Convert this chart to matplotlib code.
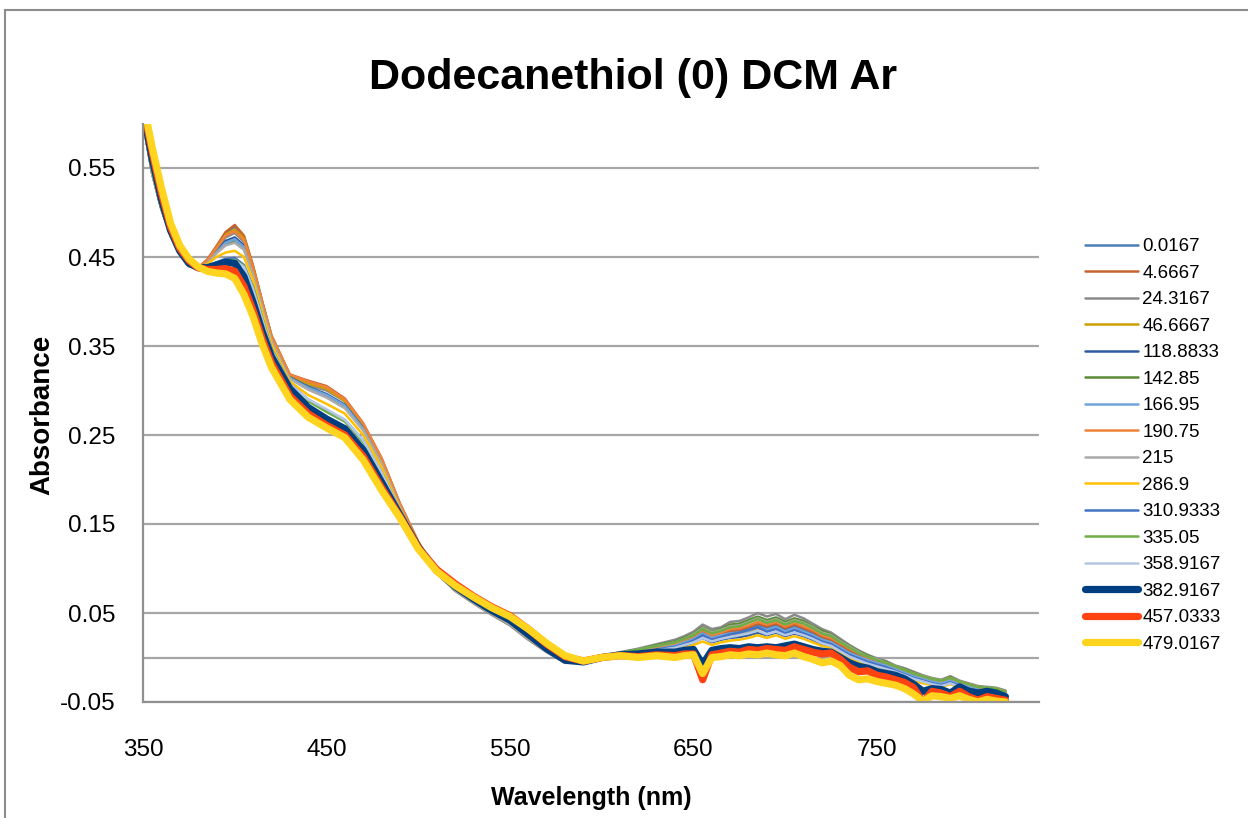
import matplotlib
matplotlib.use("Agg")
import matplotlib.pyplot as plt
from matplotlib.lines import Line2D

plt.rcParams['font.family'] = ['Liberation Sans', 'DejaVu Sans']

# wavelength grid (nm)
wavelength = [350, 355, 360, 365, 370, 375, 380,
              385, 390, 395, 400, 405, 410, 415, 420,
              430, 440, 450, 460, 470, 480, 490, 500,
              510, 520, 530, 540, 550, 560, 570, 580, 590, 600, 610, 620, 630, 640,
              645, 650, 655, 660, 665, 670, 675, 680, 685, 690,
              695, 700, 705, 710, 715, 720, 725, 730, 735, 740,
              745, 750, 755, 760, 765, 770, 775, 780, 785, 790,
              795, 800, 805, 810, 815, 820]

# absorbance for each time point (min)
t_0_0167 = [0.602, 0.544, 0.504, 0.475, 0.454, 0.440, 0.437,
            0.446, 0.461, 0.477, 0.484, 0.473, 0.439, 0.399, 0.361,
            0.317, 0.309, 0.303, 0.289, 0.262, 0.223, 0.172, 0.129,
            0.096, 0.076, 0.062, 0.049, 0.037, 0.021, 0.007, -0.005, -0.006, 0.000, 0.004, 0.007, 0.011, 0.015,
            0.018, 0.022, 0.029, 0.023, 0.026, 0.029, 0.030, 0.032, 0.036, 0.033,
            0.036, 0.031, 0.035, 0.031, 0.027, 0.022, 0.019, 0.013, 0.007, 0.002,
            -0.002, -0.005, -0.008, -0.012, -0.016, -0.020, -0.023, -0.026, -0.028, -0.025,
            -0.029, -0.032, -0.035, -0.036, -0.037, -0.040]
t_4_6667 = [0.603, 0.545, 0.505, 0.476, 0.455, 0.441, 0.438,
            0.447, 0.462, 0.478, 0.486, 0.474, 0.440, 0.400, 0.362,
            0.318, 0.311, 0.305, 0.291, 0.263, 0.224, 0.173, 0.130,
            0.096, 0.076, 0.062, 0.049, 0.037, 0.021, 0.007, -0.005, -0.006, 0.000, 0.004, 0.008, 0.012, 0.016,
            0.019, 0.023, 0.030, 0.024, 0.027, 0.030, 0.031, 0.034, 0.038, 0.035,
            0.038, 0.033, 0.037, 0.033, 0.029, 0.023, 0.020, 0.014, 0.008, 0.003,
            -0.001, -0.004, -0.007, -0.011, -0.015, -0.019, -0.022, -0.025, -0.027, -0.024,
            -0.028, -0.031, -0.034, -0.035, -0.036, -0.039]
t_24_3167 = [0.603, 0.546, 0.505, 0.476, 0.455, 0.441, 0.437,
             0.445, 0.458, 0.472, 0.477, 0.467, 0.436, 0.398, 0.360,
             0.316, 0.306, 0.300, 0.288, 0.262, 0.223, 0.172, 0.129,
             0.095, 0.075, 0.061, 0.048, 0.036, 0.020, 0.006, -0.006, -0.006, 0.001, 0.006, 0.010, 0.015, 0.020,
             0.024, 0.029, 0.037, 0.032, 0.034, 0.040, 0.041, 0.045, 0.050, 0.046,
             0.049, 0.043, 0.048, 0.044, 0.038, 0.032, 0.028, 0.021, 0.014, 0.008,
             0.003, -0.001, -0.004, -0.009, -0.012, -0.016, -0.020, -0.023, -0.025, -0.021,
             -0.026, -0.029, -0.032, -0.033, -0.034, -0.037]
t_46_6667 = [0.602, 0.544, 0.504, 0.475, 0.454, 0.440, 0.437,
             0.445, 0.460, 0.475, 0.481, 0.471, 0.438, 0.398, 0.361,
             0.317, 0.308, 0.302, 0.288, 0.261, 0.222, 0.172, 0.129,
             0.096, 0.077, 0.063, 0.050, 0.038, 0.022, 0.007, -0.005, -0.005, 0.000, 0.003, 0.006, 0.010, 0.013,
             0.016, 0.020, 0.026, 0.021, 0.024, 0.026, 0.027, 0.029, 0.033, 0.030,
             0.033, 0.028, 0.032, 0.028, 0.024, 0.019, 0.016, 0.010, 0.004, 0.000,
             -0.004, -0.007, -0.010, -0.014, -0.018, -0.022, -0.025, -0.028, -0.030, -0.027,
             -0.031, -0.034, -0.037, -0.038, -0.038, -0.041]
t_118_8833 = [0.602, 0.544, 0.504, 0.475, 0.454, 0.440, 0.437,
              0.444, 0.456, 0.468, 0.472, 0.463, 0.433, 0.395, 0.358,
              0.315, 0.304, 0.296, 0.284, 0.258, 0.220, 0.170, 0.128,
              0.096, 0.077, 0.063, 0.050, 0.038, 0.022, 0.008, -0.004, -0.005, 0.000, 0.003, 0.005, 0.008, 0.011,
              0.013, 0.017, 0.022, 0.017, 0.020, 0.022, 0.023, 0.025, 0.028, 0.025,
              0.028, 0.024, 0.027, 0.024, 0.020, 0.015, 0.013, 0.007, 0.001, -0.003,
              -0.007, -0.010, -0.013, -0.016, -0.020, -0.024, -0.027, -0.030, -0.032, -0.029,
              -0.033, -0.036, -0.038, -0.039, -0.040, -0.042]
t_142_85 = [0.603, 0.545, 0.505, 0.476, 0.455, 0.441, 0.437,
            0.443, 0.455, 0.465, 0.468, 0.460, 0.431, 0.394, 0.357,
            0.314, 0.303, 0.294, 0.282, 0.257, 0.219, 0.170, 0.128,
            0.095, 0.076, 0.062, 0.049, 0.037, 0.021, 0.007, -0.005, -0.006, 0.001, 0.005, 0.009, 0.014, 0.018,
            0.022, 0.027, 0.034, 0.029, 0.032, 0.037, 0.038, 0.042, 0.046, 0.042,
            0.045, 0.040, 0.044, 0.041, 0.035, 0.030, 0.026, 0.019, 0.013, 0.007,
            0.002, -0.002, -0.005, -0.010, -0.013, -0.017, -0.021, -0.024, -0.026, -0.022,
            -0.027, -0.030, -0.033, -0.034, -0.035, -0.038]
t_166_95 = [0.602, 0.544, 0.504, 0.475, 0.454, 0.440, 0.437,
            0.443, 0.455, 0.466, 0.470, 0.461, 0.432, 0.394, 0.357,
            0.314, 0.303, 0.295, 0.283, 0.257, 0.219, 0.170, 0.128,
            0.096, 0.077, 0.063, 0.050, 0.038, 0.022, 0.007, -0.005, -0.005, 0.000, 0.004, 0.006, 0.010, 0.014,
            0.017, 0.021, 0.027, 0.022, 0.025, 0.027, 0.028, 0.030, 0.034, 0.031,
            0.034, 0.029, 0.033, 0.029, 0.025, 0.020, 0.017, 0.011, 0.005, 0.001,
            -0.003, -0.006, -0.009, -0.013, -0.017, -0.021, -0.024, -0.027, -0.029, -0.026,
            -0.030, -0.033, -0.036, -0.037, -0.038, -0.041]
t_190_75 = [0.603, 0.545, 0.505, 0.476, 0.455, 0.441, 0.438,
            0.446, 0.460, 0.474, 0.479, 0.469, 0.437, 0.398, 0.361,
            0.318, 0.310, 0.304, 0.290, 0.263, 0.224, 0.173, 0.130,
            0.096, 0.076, 0.062, 0.049, 0.037, 0.021, 0.007, -0.005, -0.006, 0.000, 0.004, 0.008, 0.012, 0.016,
            0.020, 0.024, 0.031, 0.025, 0.028, 0.032, 0.033, 0.036, 0.040, 0.037,
            0.040, 0.035, 0.039, 0.035, 0.031, 0.025, 0.022, 0.016, 0.010, 0.005,
            0.000, -0.003, -0.006, -0.010, -0.014, -0.018, -0.021, -0.024, -0.026, -0.023,
            -0.027, -0.030, -0.033, -0.034, -0.035, -0.038]
t_215 = [0.602, 0.544, 0.504, 0.475, 0.454, 0.440, 0.437,
         0.443, 0.454, 0.463, 0.466, 0.458, 0.430, 0.393, 0.356,
         0.313, 0.301, 0.292, 0.280, 0.255, 0.218, 0.169, 0.127,
         0.095, 0.076, 0.062, 0.049, 0.037, 0.021, 0.007, -0.005, -0.006, 0.001, 0.005, 0.009, 0.013, 0.017,
         0.021, 0.026, 0.033, 0.028, 0.031, 0.035, 0.036, 0.040, 0.044, 0.040,
         0.043, 0.038, 0.042, 0.039, 0.034, 0.028, 0.025, 0.018, 0.012, 0.006,
         0.001, -0.002, -0.006, -0.010, -0.014, -0.018, -0.021, -0.024, -0.026, -0.023,
         -0.027, -0.030, -0.033, -0.034, -0.035, -0.038]
t_286_9 = [0.603, 0.545, 0.506, 0.477, 0.456, 0.442, 0.438,
           0.442, 0.450, 0.455, 0.457, 0.450, 0.424, 0.388, 0.352,
           0.310, 0.295, 0.285, 0.274, 0.250, 0.214, 0.167, 0.127,
           0.096, 0.078, 0.064, 0.051, 0.039, 0.023, 0.008, -0.004, -0.005, 0.000, 0.003, 0.004, 0.007, 0.009,
           0.011, 0.014, 0.018, 0.014, 0.017, 0.019, 0.020, 0.022, 0.025, 0.022,
           0.025, 0.021, 0.024, 0.021, 0.017, 0.013, 0.011, 0.005, -0.001, -0.005,
           -0.009, -0.012, -0.015, -0.018, -0.022, -0.026, -0.029, -0.031, -0.033, -0.030,
           -0.034, -0.037, -0.039, -0.040, -0.041, -0.043]
t_310_9333 = [0.604, 0.547, 0.507, 0.477, 0.456, 0.442, 0.438,
              0.440, 0.444, 0.448, 0.449, 0.441, 0.416, 0.381, 0.347,
              0.307, 0.290, 0.278, 0.267, 0.244, 0.208, 0.165, 0.126,
              0.097, 0.078, 0.064, 0.051, 0.039, 0.023, 0.008, -0.004, -0.005, 0.000, 0.003, 0.005, 0.009, 0.012,
              0.015, 0.019, 0.025, 0.020, 0.023, 0.026, 0.028, 0.031, 0.034, 0.029,
              0.032, 0.027, 0.031, 0.027, 0.023, 0.018, 0.015, 0.009, 0.003, -0.001,
              -0.005, -0.008, -0.011, -0.015, -0.019, -0.023, -0.026, -0.029, -0.031, -0.028,
              -0.032, -0.035, -0.037, -0.038, -0.039, -0.042]
t_335_05 = [0.604, 0.547, 0.507, 0.477, 0.456, 0.442, 0.438,
            0.440, 0.443, 0.446, 0.447, 0.440, 0.415, 0.380, 0.346,
            0.306, 0.288, 0.276, 0.265, 0.242, 0.207, 0.164, 0.126,
            0.097, 0.078, 0.064, 0.051, 0.039, 0.023, 0.008, -0.004, -0.005, 0.001, 0.005, 0.009, 0.013, 0.017,
            0.021, 0.025, 0.032, 0.027, 0.030, 0.034, 0.035, 0.039, 0.043, 0.039,
            0.042, 0.037, 0.041, 0.038, 0.033, 0.027, 0.024, 0.017, 0.011, 0.005,
            0.001, -0.003, -0.006, -0.010, -0.014, -0.018, -0.021, -0.024, -0.026, -0.023,
            -0.027, -0.030, -0.033, -0.034, -0.035, -0.038]
t_358_9167 = [0.604, 0.547, 0.507, 0.477, 0.456, 0.442, 0.438,
              0.440, 0.443, 0.445, 0.446, 0.439, 0.414, 0.380, 0.346,
              0.307, 0.290, 0.279, 0.267, 0.244, 0.208, 0.165, 0.126,
              0.097, 0.078, 0.064, 0.051, 0.039, 0.023, 0.008, -0.004, -0.005, 0.000, 0.003, 0.005, 0.008, 0.011,
              0.014, 0.017, 0.022, 0.018, 0.021, 0.023, 0.025, 0.027, 0.030, 0.026,
              0.029, 0.025, 0.028, 0.025, 0.021, 0.016, 0.013, 0.007, 0.001, -0.003,
              -0.007, -0.010, -0.013, -0.016, -0.020, -0.024, -0.027, -0.030, -0.032, -0.029,
              -0.033, -0.036, -0.038, -0.039, -0.040, -0.043]
t_382_9167 = [0.615, 0.560, 0.515, 0.480, 0.457, 0.443, 0.438,
              0.438, 0.441, 0.444, 0.443, 0.428, 0.399, 0.366, 0.338,
              0.302, 0.281, 0.268, 0.257, 0.233, 0.197, 0.160, 0.124,
              0.098, 0.080, 0.066, 0.053, 0.042, 0.026, 0.010, -0.003, -0.005, 0.000, 0.003, 0.004, 0.006, 0.006,
              0.008, 0.009, -0.008, 0.008, 0.010, 0.011, 0.010, 0.012, 0.011, 0.012,
              0.011, 0.013, 0.015, 0.012, 0.009, 0.007, 0.006, 0.000, -0.006, -0.010,
              -0.012, -0.016, -0.018, -0.020, -0.024, -0.030, -0.038, -0.035, -0.036, -0.040,
              -0.033, -0.038, -0.040, -0.038, -0.040, -0.044]
t_457_0333 = [0.620, 0.568, 0.522, 0.484, 0.460, 0.446, 0.438,
              0.436, 0.436, 0.437, 0.434, 0.417, 0.390, 0.358, 0.331,
              0.294, 0.274, 0.261, 0.250, 0.226, 0.191, 0.158, 0.123,
              0.099, 0.083, 0.069, 0.057, 0.047, 0.032, 0.015, 0.001, -0.004, 0.000, 0.002, 0.001, 0.003, 0.002,
              0.004, 0.004, -0.025, 0.003, 0.005, 0.007, 0.006, 0.009, 0.008, 0.010,
              0.009, 0.008, 0.012, 0.009, 0.006, 0.004, 0.005, -0.002, -0.011, -0.016,
              -0.015, -0.020, -0.022, -0.025, -0.028, -0.034, -0.050, -0.038, -0.040, -0.044,
              -0.038, -0.044, -0.048, -0.044, -0.046, -0.048]
t_479_0167 = [0.625, 0.573, 0.528, 0.488, 0.463, 0.448, 0.439,
              0.434, 0.432, 0.431, 0.426, 0.408, 0.383, 0.352, 0.326,
              0.290, 0.270, 0.258, 0.247, 0.222, 0.188, 0.157, 0.122,
              0.097, 0.081, 0.068, 0.056, 0.046, 0.032, 0.016, 0.002, -0.004, 0.000, 0.002, 0.000, 0.002, 0.000,
              0.002, 0.003, -0.018, 0.000, 0.001, 0.003, 0.002, 0.004, 0.003, 0.005,
              0.003, 0.002, 0.005, 0.001, -0.002, -0.006, -0.004, -0.009, -0.020, -0.025,
              -0.024, -0.027, -0.029, -0.031, -0.035, -0.041, -0.049, -0.043, -0.044, -0.046,
              -0.043, -0.047, -0.050, -0.047, -0.049, -0.050]

labels = ['0.0167', '4.6667', '24.3167', '46.6667', '118.8833', '142.85', '166.95',
          '190.75', '215', '286.9', '310.9333', '335.05', '358.9167', '382.9167',
          '457.0333', '479.0167']
colors = ['#4A7EBB', '#C5622D', '#8A8A8A', '#CC9E00', '#2E5AA0', '#5A8A35', '#6FA5DC',
          '#F0823A', '#ABABAB', '#FFC000', '#4472C4', '#70AD47', '#B4C7E7', '#003F7F',
          '#FF4212', '#FFD41E']
series = [t_0_0167, t_4_6667, t_24_3167, t_46_6667, t_118_8833, t_142_85, t_166_95,
          t_190_75, t_215, t_286_9, t_310_9333, t_335_05, t_358_9167, t_382_9167,
          t_457_0333, t_479_0167]

x_ticks = [350, 450, 550, 650, 750]
y_ticks = [-0.05, 0.05, 0.15, 0.25, 0.35, 0.45, 0.55]
y_ticklabels = ['-0.05', '0.05', '0.15', '0.25', '0.35', '0.45', '0.55']

fig = plt.figure(figsize=(12.48, 8.18), dpi=100)
ax = fig.add_axes([143 / 1248, 1 - 702 / 818, 896 / 1248, (702 - 123.5) / 818])

grid_col = '#A6A6A6'
for i, (vals, lab, col) in enumerate(zip(series, labels, colors)):
    lw = 5.2 if i >= 13 else 1.8
    ax.plot(wavelength, vals, color=col, lw=lw, label=lab,
            solid_joinstyle='round', solid_capstyle='round', zorder=2 + i * 0.01)

ax.set_xlim(350, 838.3)
ax.set_ylim(-0.05, 0.6)
ax.set_xticks(x_ticks)
ax.set_yticks(y_ticks)
ax.set_yticklabels(y_ticklabels)
ax.yaxis.grid(True, color=grid_col, lw=1.6)
ax.axhline(0, color=grid_col, lw=1.6, zorder=1)
ax.set_axisbelow(True)
for s in ['top', 'right']:
    ax.spines[s].set_visible(False)
for s in ['left', 'bottom']:
    ax.spines[s].set_color('#909090')
    ax.spines[s].set_linewidth(1.6)
ax.tick_params(axis='both', length=0, labelsize=17.5, colors='black')
ax.tick_params(axis='x', pad=27)
ax.tick_params(axis='y', pad=20)

fig.text(633 / 1248, 1 - 78 / 818, 'Dodecanethiol (0) DCM Ar', ha='center', va='center',
         fontsize=31, fontweight='bold')
fig.text(591 / 1248, 1 - 798 / 818, 'Wavelength (nm)', ha='center', va='center',
         fontsize=18, fontweight='bold')
fig.text(42 / 1248, 1 - 415 / 818, 'Absorbance', ha='center', va='center', rotation=90,
         fontsize=20, fontweight='bold')

ax.legend(loc='upper left', bbox_to_anchor=(1085 / 1248, 1 - 238 / 818),
          bbox_transform=fig.transFigure, frameon=False, fontsize=13.5,
          handlelength=2.85, handletextpad=0.2, labelspacing=0.5,
          borderpad=0, borderaxespad=0)

# chart-area border
fig.add_artist(Line2D([5 / 1248, 1], [1 - 10 / 818, 1 - 10 / 818], color='#8C8C8C', lw=1.5))
fig.add_artist(Line2D([5 / 1248, 5 / 1248], [0, 1 - 10 / 818], color='#8C8C8C', lw=1.5))

fig.savefig('out.png', dpi=100)
